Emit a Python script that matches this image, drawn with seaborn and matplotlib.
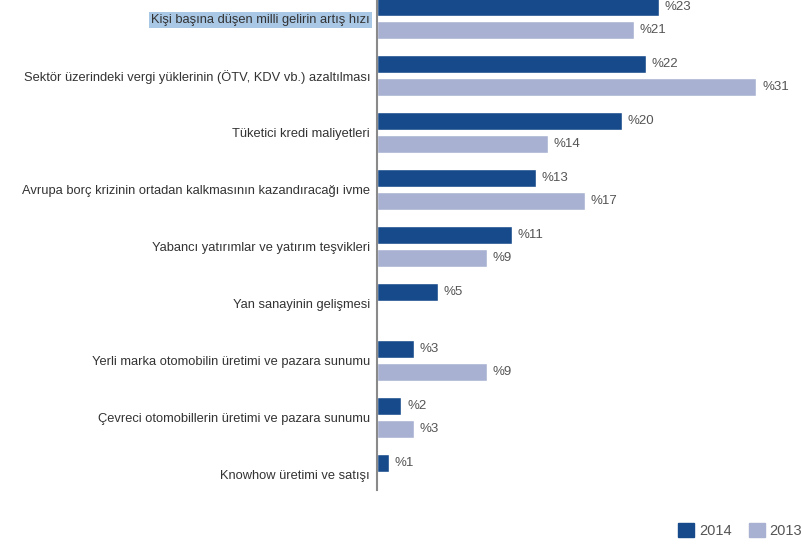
import pandas as pd
import numpy as np
import matplotlib.pyplot as plt
import seaborn as sns
import matplotlib.patches as mpatches

# Chart data
categories = [
    'Kişi başına düşen milli gelirin artış hızı',
    'Sektör üzerindeki vergi yüklerinin (ÖTV, KDV vb.) azaltılması',
    'Tüketici kredi maliyetleri',
    'Avrupa borç krizinin ortadan kalkmasının kazandıracağı ivme',
    'Yabancı yatırımlar ve yatırım teşvikleri',
    'Yan sanayinin gelişmesi',
    'Yerli marka otomobilin üretimi ve pazara sunumu',
    'Çevreci otomobillerin üretimi ve pazara sunumu',
    'Knowhow üretimi ve satışı',
]
values_2014 = [23, 22, 20, 13, 11, 5, 3, 2, 1]
values_2013 = [21, 31, 14, 17, 9, np.nan, 9, 3, np.nan]
years = ['2014', '2013']

data = pd.DataFrame({
    'Kategori': categories * 2,
    'Yıl': ['2014'] * len(categories) + ['2013'] * len(categories),
    'Değer': values_2014 + values_2013,
})

palette = {'2014': '#174a8b', '2013': '#a8b1d1'}
text_gray = '#555555'

sns.set_style('white')
plt.rcParams['font.family'] = ['Liberation Sans', 'DejaVu Sans']

fig = plt.figure(figsize=(8.03, 5.51), dpi=100)
ax = fig.add_axes([377 / 803, 1 - 490 / 551, 1 - 377 / 803, 490 / 551])

sns.barplot(data=data, y='Kategori', x='Değer', hue='Yıl', hue_order=years,
            palette=palette, orient='h', gap=0.2, ax=ax, legend=False,
            saturation=1, errorbar=None)

# value labels
for container, yr in zip(ax.containers, years):
    labels = [f'%{int(v)}' if not np.isnan(v) else '' for v in container.datavalues]
    ax.bar_label(container, labels=labels, padding=4, color=text_gray, fontsize=9.5)

ax.set_xlim(0, 34.8)
ax.set_ylim((490 - 18.5) / 57, -18.5 / 57)
ax.set_xlabel('')
ax.set_ylabel('')
ax.set_xticks([])
ax.tick_params(axis='y', length=0, pad=5, labelsize=9.3, labelcolor='#333333')
for s in ['top', 'right', 'bottom']:
    ax.spines[s].set_visible(False)
ax.spines['left'].set_color('#8a8a8a')
ax.spines['left'].set_linewidth(1.5)

# highlight on first label, like in the source image
first = ax.get_yticklabels()[0]
first.set_bbox(dict(facecolor='#a9c8e6', edgecolor='none', pad=1.5))

handles = [mpatches.Patch(color=palette[y], label=y) for y in years]
fig.legend(handles=handles, loc='lower right', bbox_to_anchor=(1.015, 0.0), ncol=2,
           frameon=False, fontsize=10.5, handlelength=1.1, handleheight=1.1,
           columnspacing=1.2, handletextpad=0.3, labelcolor=text_gray)

plt.savefig('out.png', dpi=100)
